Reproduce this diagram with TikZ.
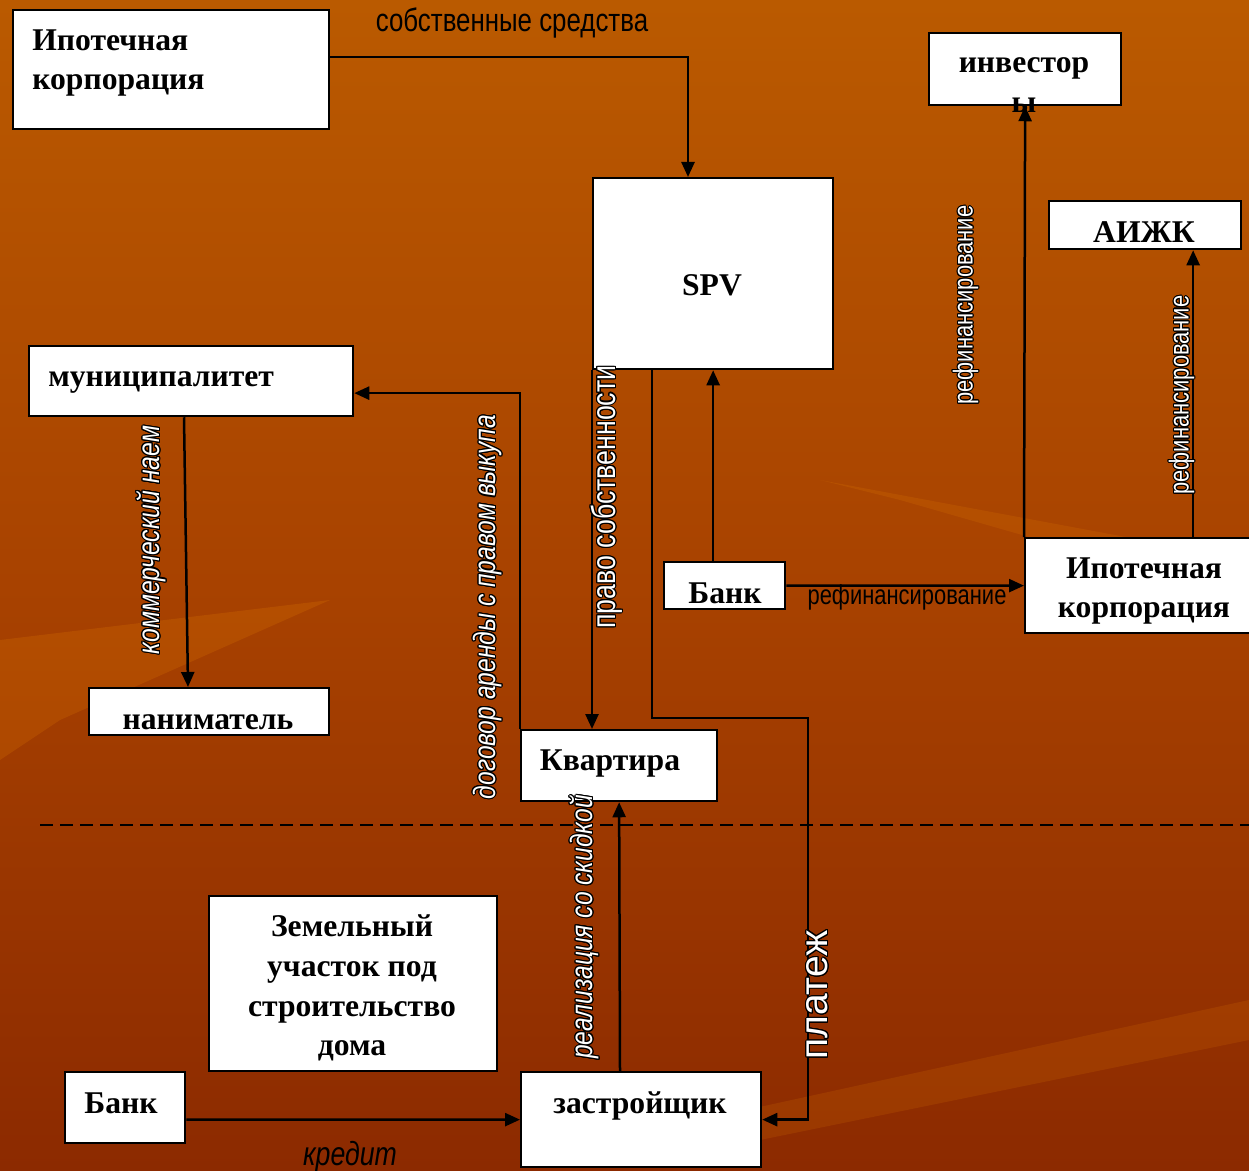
\documentclass[tikz,border=0pt]{standalone}
\usepackage{fontspec}
\setmainfont{Liberation Serif}
\newfontfamily\lblfont[FakeStretch=0.8]{Liberation Sans}
\newfontfamily\lblwide{Liberation Sans}
\usepackage{contour}
\contourlength{0.6pt}
\usetikzlibrary{arrows.meta,calc}
\definecolor{bgtop}{RGB}{186,90,0}
\definecolor{bgmid}{RGB}{168,66,0}
\definecolor{bgbot}{RGB}{140,42,0}
\newcommand{\wlab}[1]{\contour{black}{#1}}
\tikzset{
 box/.style={draw=black, line width=0.45mm, fill=white, inner sep=0pt, anchor=north west},
 btext/.style={font=\fontsize{18}{22.6}\selectfont\bfseries, inner sep=0pt, text=black},
 arr/.style={draw=black, line width=0.5mm, -{Triangle[length=3mm,width=2.6mm]}},
 vlab/.style={text=white, rotate=90, inner sep=0pt},
 hlab/.style={text=black, inner sep=0pt},
}
\begin{document}
\begin{tikzpicture}[x=0.2mm,y=-0.2mm]
\useasboundingbox (0,0) rectangle (1249,1171);
\shade[top color=bgtop, bottom color=bgbot, middle color=bgmid] (0,0) rectangle (1249,1171);
% light streaks
\fill[orange!80!yellow, opacity=0.15] (0,640) -- (330,600) -- (60,720) -- (0,760) -- cycle;
\fill[orange!80!yellow, opacity=0.12] (820,480) -- (1249,560) -- (1249,600) -- (900,500) -- cycle;
\fill[orange!80!yellow, opacity=0.12] (700,1120) -- (1249,1000) -- (1249,1040) -- (760,1140) -- cycle;

% boxes
\node[box, minimum width=63.2mm, minimum height=23.8mm] (ic1) at (12,9) {};
\node[box, minimum width=48mm, minimum height=38.2mm] (spv) at (592,177) {};
\node[box, minimum width=38.4mm, minimum height=14.4mm] (inv) at (928,32) {};
\node[box, minimum width=38.4mm, minimum height=9.6mm] (aijk) at (1048,200) {};
\node[box, minimum width=64.8mm, minimum height=14mm] (mun) at (28,345) {};
\node[box, minimum width=24.2mm, minimum height=9.4mm] (bank1) at (663,561) {};
\node[box, minimum width=46.4mm, minimum height=19mm] (ic2) at (1024,537) {};
\node[box, minimum width=48mm, minimum height=9.4mm] (nan) at (88,687) {};
\node[box, minimum width=39.2mm, minimum height=14.2mm] (kv) at (520,729) {};
\node[box, minimum width=57.6mm, minimum height=35mm] (zem) at (208,895) {};
\node[box, minimum width=24mm, minimum height=14.2mm] (bank2) at (64,1071) {};
\node[box, minimum width=48mm, minimum height=19mm] (zas) at (520,1071) {};

% box texts
\node[btext, anchor=west, align=left] (ic1t) at (32,63) {Ипотечная\\корпорация};
\node[btext] (spvt) at (712,285) {SPV};
\node[btext, align=center] (invt) at (1024,85) {инвестор\\ы};
\node[btext] (aijkt) at (1144,232) {АИЖК};
\node[btext, anchor=west] (munt) at (48,382) {муниципалитет};
\node[btext] (bank1t) at (725,593) {Банк};
\node[btext, align=center] (ic2t) at (1144,591) {Ипотечная\\корпорация};
\node[btext] (nant) at (208,722) {наниматель};
\node[btext] (kvt) at (610,764) {Квартира};
\node[btext, align=center] (zemt) at (352,988) {Земельный\\участок под\\строительство\\дома};
\node[btext] (bank2t) at (121,1103) {Банк};
\node[btext] (zast) at (640,1106) {застройщик};

% helper coordinates
\coordinate (a1) at ($(aijk.south)+(48,0)$);
\coordinate (p1) at ($(spv.south west)+(60,0)$);
\coordinate (p2) at (808,718);

% connectors
\draw[arr] ($(ic1.north east)+(0,48)$) -| ($(spv.north west)+(96,0)$);
\draw[arr] (bank1.north -| spv.south) -- (spv.south);
\draw[arr] (bank1.east) -- (ic2.west);
\draw[arr] (ic2.north west) -- (inv.south);
\draw[arr] (a1 |- ic2.north) -- (a1);
\draw[arr] (spv.south west) -- (spv.south west |- kv.north);
\draw[arr] (p1) |- (p2) |- (zas.east);
\draw[arr] (kv.north west) |- ($(mun.east)+(0,12)$);
\draw[arr] ($(mun.south west)+(156,0)$) -- ($(nan.north west)+(100,0)$);
\draw[arr] ($(zas.north west)+(100,0)$) -- (kv.south);
\draw[arr] ($(bank2.east)+(0,12)$) -- (zas.west);

% dashed separator
\coordinate (d1) at (40,825);
\coordinate (d2) at (1249,825);
\draw[black, line width=0.4mm, dash pattern=on 2.6mm off 1.4mm] (d1) -- (d2);

% labels
\node[hlab, font=\fontsize{18.4}{22}\selectfont\lblfont] (l1) at (512,23) {собственные средства};
\node[hlab, font=\fontsize{15.6}{18}\selectfont\lblfont] (l2) at (907,597) {рефинансирование};
\node[vlab, font=\fontsize{15.6}{18}\selectfont\lblfont] (l3) at (966,305) {\wlab{рефинансирование}};
\node[vlab, font=\fontsize{15.6}{18}\selectfont\lblfont] (l4) at (1182,395) {\wlab{рефинансирование}};
\node[vlab, font=\fontsize{19}{22}\selectfont\lblfont] (l5) at (607,497) {\wlab{право собственности}};
\node[vlab, font=\fontsize{17.5}{21}\selectfont\lblfont\itshape] (l6) at (488,607) {\wlab{договор аренды с правом выкупа}};
\node[vlab, font=\fontsize{17.6}{21}\selectfont\lblfont\itshape] (l7) at (152,540) {\wlab{коммерческий наем}};
\node[vlab, font=\fontsize{17.5}{21}\selectfont\lblfont\itshape] (l8) at (585,927) {\wlab{реализация со скидкой}};
\node[vlab, font=\fontsize{22.2}{26}\selectfont\lblwide] (l9) at (818,995) {\wlab{платеж}};
\node[hlab, font=\fontsize{19}{22}\selectfont\lblfont\itshape] (l10) at (350,1157) {кредит};
\end{tikzpicture}
\end{document}
